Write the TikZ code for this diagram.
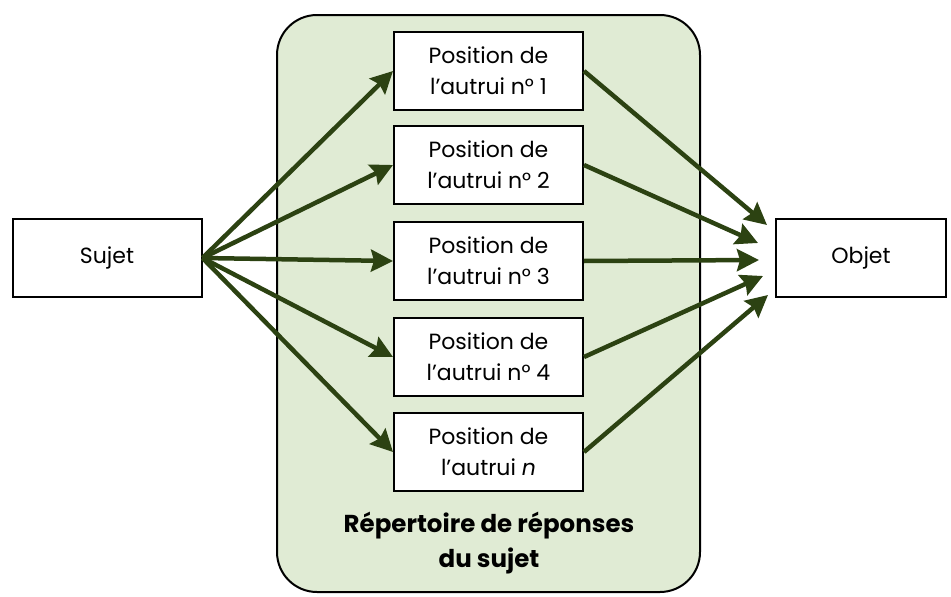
\documentclass[tikz,border=0pt]{standalone}
\usepackage{fontspec}
\setmainfont{Poppins}
\usetikzlibrary{arrows.meta}
\definecolor{panelfill}{HTML}{E0EBD4}
\definecolor{arrowgreen}{HTML}{2C4212}
\tikzset{
  box/.style={draw=black, line width=2pt, fill=white, minimum width=189pt, minimum height=78pt, align=center, font=\fontsize{22}{31}\selectfont, inner sep=0pt},
  conn/.style={draw=arrowgreen, line width=4.5pt, -{Triangle[length=22pt,width=22pt,inset=3pt]}},
}
\begin{document}
\begin{tikzpicture}[x=1pt,y=-1pt]
\useasboundingbox (0,0) rectangle (951,597);
\node[draw=black, line width=2pt, fill=panelfill, rounded corners=40pt, minimum width=423pt, minimum height=577pt, inner sep=0pt] (panel) at (488.5,303.5) {};
\node[box] (sujet) at (107,258) {Sujet};
\node[box, minimum width=170pt] (objet) at (861,258) {Objet};
\node[box] (p1) at (488.5,71) {Position de\\l’autrui n° 1};
\node[box] (p2) at (488.5,165) {Position de\\l’autrui n° 2};
\node[box] (p3) at (488.5,261) {Position de\\l’autrui n° 3};
\node[box] (p4) at (488.5,357) {Position de\\l’autrui n° 4};
\node[box] (p5) at (488.5,452) {Position de\\l’autrui \textit{n}};
\node[font=\bfseries\fontsize{24.5}{35}\selectfont, align=center] (lab) at (489,543) {Répertoire de réponses\\du sujet};
\coordinate (t1) at (767,225);
\coordinate (t2) at (758,243);
\coordinate (t3) at (759,260);
\coordinate (t4) at (763,276);
\coordinate (t5) at (768,295);
\foreach \i in {1,...,5}{
  \draw[conn] (sujet.east) -- (p\i.west);
  \draw[conn] (p\i.east) -- (t\i);
}
\end{tikzpicture}
\end{document}
